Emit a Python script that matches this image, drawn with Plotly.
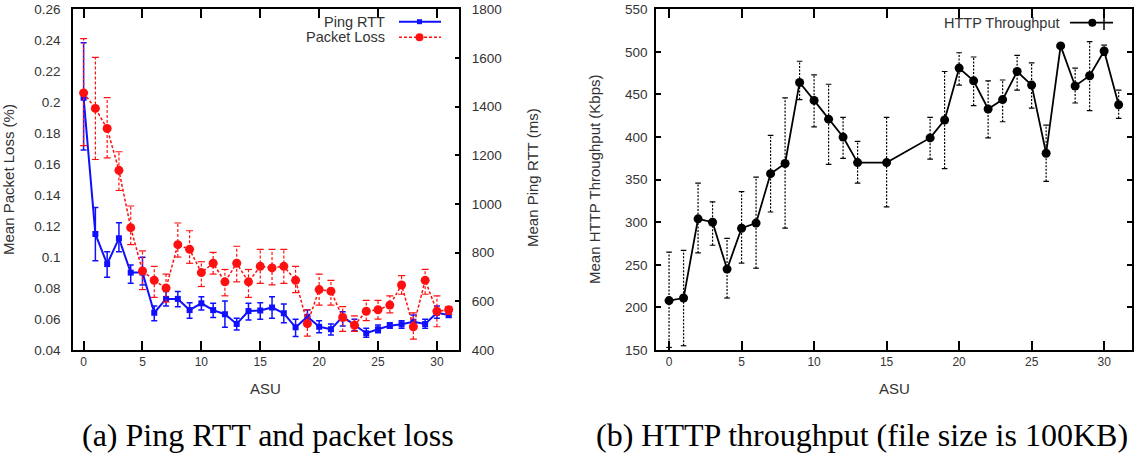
import plotly.graph_objects as go

# ---------------- data ----------------
asu_a = list(range(32))
loss_mean = [0.206, 0.196, 0.183, 0.156, 0.119, 0.091, 0.085, 0.080, 0.108, 0.105, 0.090, 0.096,
             0.084, 0.096, 0.084, 0.094, 0.093, 0.094, 0.085, 0.057, 0.079, 0.078, 0.061, 0.056,
             0.065, 0.066, 0.069, 0.082, 0.055, 0.085, 0.065, 0.066]
loss_hi = [0.241, 0.229, 0.203, 0.168, 0.133, 0.104, 0.094, 0.089, 0.122, 0.117, 0.097, 0.103,
           0.092, 0.107, 0.092, 0.105, 0.105, 0.105, 0.094, 0.066, 0.089, 0.085, 0.068, 0.062,
           0.072, 0.072, 0.075, 0.088, 0.064, 0.092, 0.075, 0.068]
loss_lo = [0.172, 0.163, 0.164, 0.143, 0.108, 0.079, 0.074, 0.071, 0.100, 0.096, 0.081, 0.089,
           0.075, 0.084, 0.074, 0.083, 0.082, 0.083, 0.077, 0.049, 0.069, 0.069, 0.052, 0.052,
           0.059, 0.060, 0.064, 0.076, 0.047, 0.076, 0.055, 0.063]

rtt_mean = [1437, 877, 753, 859, 718, 718, 553, 610, 610, 564, 592, 564, 547, 507, 560, 562,
            575, 551, 493, 537, 496, 485, 537, 503, 469, 485, 500, 506, 516, 507, 553, 544]
rtt_hi = [1663, 986, 804, 923, 749, 781, 581, 640, 640, 594, 619, 592, 601, 530, 592, 594,
          619, 589, 526, 564, 520, 507, 557, 526, 489, 503, 512, 520, 544, 526, 581, 557]
rtt_lo = [1222, 767, 699, 804, 674, 667, 520, 581, 578, 530, 564, 534, 493, 482, 523, 526,
          530, 512, 455, 503, 471, 462, 499, 479, 452, 471, 489, 489, 489, 489, 530, 534]

asu_b = [0, 1, 2, 3, 4, 5, 6, 7, 8, 9, 10, 11, 12, 13, 15, 18, 19, 20, 21, 22, 23, 24, 25, 26,
         27, 28, 29, 30, 31]
http_mean = [208, 211, 304, 300, 245, 293, 299, 357, 369, 464, 443, 421, 400, 370, 370, 399,
             420, 481, 466, 433, 444, 477, 461, 381, 507, 460, 472, 501, 438]
http_hi = [265, 267, 346, 324, 281, 336, 353, 402, 446, 489, 473, 462, 423, 395, 423, 423,
           477, 499, 494, 466, 467, 496, 487, 414, 507, 481, 512, 508, 455]
http_lo = [153, 155, 264, 273, 211, 252, 246, 312, 293, 444, 412, 368, 375, 346, 318, 374,
           363, 461, 437, 399, 418, 455, 434, 348, 507, 440, 431, 496, 422]

x_ticks = [0, 5, 10, 15, 20, 25, 30]
loss_ticks = [0.04, 0.06, 0.08, 0.10, 0.12, 0.14, 0.16, 0.18, 0.20, 0.22, 0.24, 0.26]
loss_tick_text = ["0.04", "0.06", "0.08", "0.1", "0.12", "0.14", "0.16", "0.18", "0.2",
                  "0.22", "0.24", "0.26"]
rtt_ticks = [400, 600, 800, 1000, 1200, 1400, 1600, 1800]
http_ticks = [150, 200, 250, 300, 350, 400, 450, 500, 550]

# ---------------- helpers ----------------
W, H = 1137, 459
def px(x):
    return x / W
def py(y):
    return 1 - y / H

def segments(xs, lo, hi):
    sx, sy = [], []
    for x, a, b in zip(xs, lo, hi):
        sx += [x, x, None]
        sy += [a, b, None]
    return sx, sy

SANS = "Liberation Sans, Arial, Helvetica, sans-serif"
SERIF = "Liberation Serif, Times New Roman, serif"
TXT = "#333333"
BLUE = "#1010ff"
RED = "#ff1010"

fig = go.Figure()

# ---- left chart: Ping RTT (blue, right axis) ----
fig.add_trace(go.Scatter(
    x=asu_a, y=rtt_mean, xaxis="x", yaxis="y", mode="lines+markers",
    line=dict(color=BLUE, width=2),
    marker=dict(symbol="square", size=6, color=BLUE),
    error_y=dict(type="data", symmetric=False,
                 array=[h - m for h, m in zip(rtt_hi, rtt_mean)],
                 arrayminus=[m - l for m, l in zip(rtt_mean, rtt_lo)],
                 color=BLUE, thickness=1.5, width=3),
    showlegend=False, hoverinfo="skip"))

# ---- left chart: Packet loss (red, left axis) ----
ex, ey = segments(asu_a, loss_lo, loss_hi)
fig.add_trace(go.Scatter(
    x=ex, y=ey, xaxis="x", yaxis="y2", mode="lines+markers",
    line=dict(color=RED, width=1.2, dash="3px,2px"),
    marker=dict(symbol="line-ew", size=5, line=dict(color=RED, width=1.2)),
    showlegend=False, hoverinfo="skip", connectgaps=False))
fig.add_trace(go.Scatter(
    x=asu_a, y=loss_mean, xaxis="x", yaxis="y2", mode="lines+markers",
    line=dict(color=RED, width=1.5, dash="3px,2px"),
    marker=dict(symbol="circle", size=9, color=RED),
    showlegend=False, hoverinfo="skip"))

# ---- right chart: HTTP throughput ----
hx, hy = segments(asu_b, http_lo, http_hi)
fig.add_trace(go.Scatter(
    x=hx, y=hy, xaxis="x2", yaxis="y3", mode="lines+markers",
    line=dict(color="black", width=1.2, dash="2px,1.5px"),
    marker=dict(symbol="line-ew", size=4, line=dict(color="black", width=1.2)),
    showlegend=False, hoverinfo="skip", connectgaps=False))
fig.add_trace(go.Scatter(
    x=asu_b, y=http_mean, xaxis="x2", yaxis="y3", mode="lines+markers",
    line=dict(color="black", width=1.8),
    marker=dict(symbol="circle", size=9, color="black"),
    showlegend=False, hoverinfo="skip"))

axis_common = dict(showgrid=False, zeroline=False, showline=True, linecolor="black",
                   linewidth=1.5, automargin=False, tickcolor="black")

left_dom = [px(73), px(459.3)]
right_dom = [px(656), px(1131.7)]
y_dom = [py(350), py(9.3)]

fig.update_layout(
    width=W, height=H, margin=dict(l=0, r=0, t=0, b=0),
    template="none", paper_bgcolor="white", plot_bgcolor="white",
    showlegend=False,
    xaxis=dict(domain=left_dom, range=[-0.9, 31.9], anchor="y", tickvals=x_ticks,
               ticks="inside", ticklen=9, tickwidth=1.5, mirror="ticks",
               tickfont=dict(family=SANS, size=12, color=TXT), **axis_common),
    yaxis=dict(domain=y_dom, range=[400, 1800], anchor="x", side="right",
               tickvals=rtt_ticks, ticks="inside", ticklen=5, tickwidth=1.5,
               ticklabelstandoff=8,
               tickfont=dict(family=SANS, size=13.5, color=TXT), **axis_common),
    yaxis2=dict(range=[0.04, 0.26], overlaying="y", anchor="x", side="left",
                tickvals=loss_ticks, ticktext=loss_tick_text, ticks="",
                ticklabelstandoff=8,
                tickfont=dict(family=SANS, size=13.5, color=TXT), **axis_common),
    xaxis2=dict(domain=right_dom, range=[-0.9, 31.9], anchor="y3", tickvals=x_ticks,
                ticks="inside", ticklen=9, tickwidth=1.5, mirror="ticks",
                tickfont=dict(family=SANS, size=12, color=TXT), **axis_common),
    yaxis3=dict(domain=y_dom, range=[150, 550], anchor="x2", tickvals=http_ticks,
                ticks="inside", ticklen=5, tickwidth=1.5, mirror="ticks",
                ticklabelstandoff=4,
                tickfont=dict(family=SANS, size=13.5, color=TXT), **axis_common),
)

ann = []
def text(x, y, s, size, xanchor="center", angle=0, family=SANS, color=TXT):
    ann.append(dict(x=px(x), y=py(y), xref="paper", yref="paper", text=s, showarrow=False,
                    xanchor=xanchor, yanchor="middle", textangle=angle,
                    font=dict(family=family, size=size, color=color)))

# axis titles
text(9, 180, "Mean Packet Loss (%)", 15, angle=-90)
text(532, 178, "Mean Ping RTT (ms)", 15, angle=-90)
text(265, 388.5, "ASU", 15)
text(594, 179, "Mean HTTP Throughput (Kbps)", 15, angle=-90)
text(894, 388.5, "ASU", 15)
# legends
text(387, 21.7, "Ping RTT", 14.5, xanchor="right")
text(387, 37.3, "Packet Loss", 14.5, xanchor="right")
text(1062, 22.7, "HTTP Throughput", 14.5, xanchor="right")
# captions
text(268, 435, "(a) Ping RTT and packet loss", 32, family=SERIF, color="black")
text(862, 435, "(b) HTTP throughput (file size is 100KB)", 32, family=SERIF, color="black")

shapes = []
# legend samples
shapes.append(dict(type="line", xref="paper", yref="paper", x0=px(399), x1=px(441),
                   y0=py(21.7), y1=py(21.7), line=dict(color=BLUE, width=2)))
shapes.append(dict(type="rect", xref="paper", yref="paper", x0=px(417), x1=px(422),
                   y0=py(19.2), y1=py(24.2), fillcolor=BLUE, line=dict(width=0)))
shapes.append(dict(type="line", xref="paper", yref="paper", x0=px(399), x1=px(441),
                   y0=py(37.3), y1=py(37.3), line=dict(color=RED, width=1.5, dash="3px,2px")))
shapes.append(dict(type="circle", xref="paper", yref="paper", x0=px(415.5), x1=px(423.5),
                   y0=py(33.3), y1=py(41.3), fillcolor=RED, line=dict(width=0)))
shapes.append(dict(type="line", xref="paper", yref="paper", x0=px(1070), x1=px(1113),
                   y0=py(22.7), y1=py(22.7), line=dict(color="black", width=1.8)))
shapes.append(dict(type="circle", xref="paper", yref="paper", x0=px(1088.3), x1=px(1096.3),
                   y0=py(18.7), y1=py(26.7), fillcolor="black", line=dict(width=0)))
shapes.append(dict(type="line", xref="paper", yref="paper", x0=px(1104), x1=px(1104),
                   y0=py(15), y1=py(30), line=dict(color="black", width=1.5)))

fig.update_layout(annotations=ann, shapes=shapes)

fig.write_html("out.html")
